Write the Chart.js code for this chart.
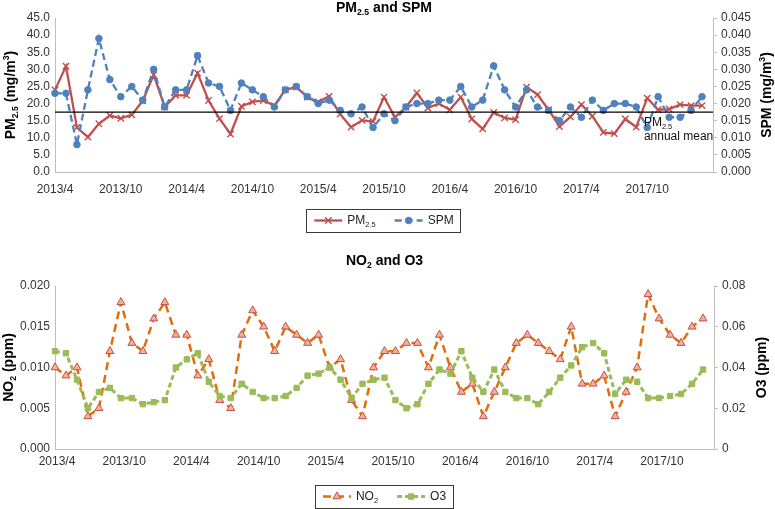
<!DOCTYPE html>
<html>
<head>
<meta charset="utf-8">
<script src="https://cdn.jsdelivr.net/npm/chart.js@4.4.1/dist/chart.umd.min.js"></script>
<style>
html,body{margin:0;padding:0;background:#fff;}
#wrap{position:relative;width:775px;height:509px;background:#fff;}
#c1{position:absolute;left:0;top:0;}
#c2{position:absolute;left:0;top:250px;}
</style>
</head>
<body>
<div id="wrap">
<canvas id="c1" width="775" height="242"></canvas>
<canvas id="c2" width="775" height="259"></canvas>
</div>
<script>
// ---------- categories ----------
const MONTHS = [
 '2013/4','2013/5','2013/6','2013/7','2013/8','2013/9','2013/10','2013/11','2013/12','2014/1','2014/2','2014/3',
 '2014/4','2014/5','2014/6','2014/7','2014/8','2014/9','2014/10','2014/11','2014/12','2015/1','2015/2','2015/3',
 '2015/4','2015/5','2015/6','2015/7','2015/8','2015/9','2015/10','2015/11','2015/12','2016/1','2016/2','2016/3',
 '2016/4','2016/5','2016/6','2016/7','2016/8','2016/9','2016/10','2016/11','2016/12','2017/1','2017/2','2017/3',
 '2017/4','2017/5','2017/6','2017/7','2017/8','2017/9','2017/10','2017/11','2017/12','2018/1','2018/2','2018/3'
];
const X_LABELS = ['2013/4','2013/10','2014/4','2014/10','2015/4','2015/10','2016/4','2016/10','2017/4','2017/10'];

// ---------- series values ----------
const PM25 = [24.0,30.9,13.0,10.2,14.1,16.5,15.7,16.7,20.8,28.4,
              19.0,22.4,22.4,28.9,20.9,15.6,11.1,19.2,20.5,20.9,
              19.4,24.0,24.8,21.9,20.5,22.1,16.9,13.1,15.1,14.8,
              21.9,16.0,19.0,23.1,18.7,20.0,18.2,21.9,15.5,12.6,
              17.4,15.8,15.3,24.8,22.6,18.2,13.3,16.1,19.7,16.3,
              11.6,11.2,15.5,13.1,21.6,18.2,18.4,19.7,19.4,19.4];
const SPM  = [0.023,0.023,0.008,0.024,0.039,0.027,0.022,0.025,0.021,0.030,
              0.019,0.024,0.024,0.034,0.026,0.025,0.018,0.026,0.024,0.022,
              0.019,0.024,0.025,0.022,0.020,0.021,0.018,0.017,0.019,0.013,
              0.017,0.015,0.019,0.020,0.020,0.021,0.021,0.025,0.019,0.021,
              0.031,0.024,0.019,0.024,0.019,0.018,0.015,0.019,0.016,0.021,
              0.018,0.020,0.020,0.019,0.013,0.022,0.016,0.016,0.018,0.022];
const PM25_ANNUAL_MEAN = 17.5;
const NO2  = [0.010,0.009,0.010,0.004,0.005,0.012,0.018,0.013,0.012,0.016,
              0.018,0.014,0.014,0.009,0.011,0.006,0.005,0.014,0.017,0.015,
              0.012,0.015,0.014,0.013,0.014,0.010,0.011,0.006,0.004,0.010,
              0.012,0.012,0.013,0.013,0.010,0.014,0.010,0.007,0.008,0.004,
              0.007,0.010,0.013,0.014,0.013,0.012,0.011,0.015,0.008,0.008,
              0.009,0.004,0.007,0.010,0.019,0.016,0.014,0.013,0.015,0.016];
const O3   = [0.048,0.047,0.034,0.020,0.028,0.030,0.025,0.025,0.022,0.023,
              0.024,0.040,0.044,0.047,0.033,0.026,0.025,0.032,0.028,0.025,
              0.025,0.026,0.030,0.036,0.037,0.040,0.034,0.025,0.032,0.034,
              0.035,0.024,0.020,0.022,0.032,0.039,0.037,0.048,0.035,0.028,
              0.039,0.028,0.025,0.025,0.022,0.028,0.035,0.041,0.050,0.052,
              0.047,0.027,0.034,0.033,0.025,0.025,0.026,0.027,0.032,0.039];

// ---------- tick values ----------
const PM_TICKS  = [0,5,10,15,20,25,30,35,40,45];
const SPM_TICKS = [0,0.005,0.010,0.015,0.020,0.025,0.030,0.035,0.040,0.045];
const NO2_TICKS = [0,0.005,0.010,0.015,0.020];
const O3_TICKS  = [0,0.02,0.04,0.06,0.08];

// ---------- style ----------
const FONT = '"Liberation Sans", Arial, sans-serif';
const AXIS_GRAY = '#bfbfbf';
const TICK_COLOR = '#333333';

const pts = arr => arr.map((v, i) => ({x: i, y: v}));

function richParts(ctx, segs, size, bold) {
  return segs.map(s => {
    const mode = s[1] || 0;
    const fs = mode ? size * 0.62 : size;
    const font = (bold ? 'bold ' : '') + fs + 'px ' + FONT;
    ctx.font = font;
    return {t: s[0], font, w: ctx.measureText(s[0]).width,
            dy: mode === 1 ? size * 0.33 : (mode === 2 ? -size * 0.33 : 0)};
  });
}
function drawRich(ctx, segs, x, y, size, bold, align, color) {
  ctx.save();
  ctx.fillStyle = color; ctx.textBaseline = 'middle'; ctx.textAlign = 'left';
  const parts = richParts(ctx, segs, size, bold);
  const total = parts.reduce((a, p) => a + p.w, 0);
  let cx = align === 'center' ? x - total / 2 : x;
  parts.forEach(p => { ctx.font = p.font; ctx.fillText(p.t, cx, y + p.dy); cx += p.w; });
  ctx.restore();
  return total;
}
function drawRichRot(ctx, segs, x, y, size, bold, color) {
  ctx.save(); ctx.translate(x, y); ctx.rotate(-Math.PI / 2);
  drawRich(ctx, segs, 0, 0, size, bold, 'center', color);
  ctx.restore();
}
function drawMarker(ctx, ds, x, y) {
  const r = ds.pointRadius, st = ds.pointStyle;
  ctx.save();
  ctx.setLineDash([]);
  ctx.lineWidth = ds.pointBorderWidth || 1;
  ctx.fillStyle = ds.pointBackgroundColor || ds.borderColor;
  ctx.strokeStyle = ds.pointBorderColor || ds.borderColor;
  ctx.beginPath();
  if (st === 'circle') { ctx.arc(x, y, r, 0, Math.PI * 2); ctx.fill(); ctx.stroke(); }
  else if (st === 'rect') { const s = r * Math.SQRT1_2; ctx.rect(x - s, y - s, 2 * s, 2 * s); ctx.fill(); ctx.stroke(); }
  else if (st === 'triangle') {
    for (let k = 0; k < 3; k++) {
      const a = k * 2 * Math.PI / 3;
      const px = x + Math.sin(a) * r, py = y - Math.cos(a) * r;
      k ? ctx.lineTo(px, py) : ctx.moveTo(px, py);
    }
    ctx.closePath(); ctx.fill(); ctx.stroke();
  } else if (st === 'crossRot') {
    const s = r * Math.SQRT1_2;
    ctx.moveTo(x - s, y - s); ctx.lineTo(x + s, y + s);
    ctx.moveTo(x - s, y + s); ctx.lineTo(x + s, y - s); ctx.stroke();
  }
  ctx.restore();
}
function drawLegend(chart, cy) {
  const ctx = chart.ctx, a = chart.chartArea;
  const items = chart.data.datasets.filter(d => d.legendSegs);
  const ICON = 28, GAP_T = 5, GAP_I = 19, FS = 12;
  const widths = items.map(d => richParts(ctx, d.legendSegs, FS, false).reduce((s, p) => s + p.w, 0));
  const total = widths.reduce((s, w) => s + ICON + GAP_T + w, 0) + GAP_I * (items.length - 1);
  let x = (a.left + a.right) / 2 - total / 2;
  ctx.save();
  ctx.strokeStyle = '#3a3a3a'; ctx.lineWidth = 1;
  ctx.strokeRect(Math.round(x - 8) + 0.5, Math.round(cy - 11.5) + 0.5, Math.round(total + 15), 23);
  ctx.restore();
  items.forEach((d, i) => {
    ctx.save();
    ctx.strokeStyle = d.borderColor; ctx.lineWidth = d.borderWidth;
    ctx.setLineDash(d.borderDash || []);
    ctx.beginPath(); ctx.moveTo(x, cy); ctx.lineTo(x + ICON, cy); ctx.stroke();
    ctx.restore();
    drawMarker(ctx, d, x + ICON / 2, cy);
    drawRich(ctx, d.legendSegs, x + ICON + GAP_T, cy, FS, false, 'left', '#222');
    x += ICON + GAP_T + widths[i] + GAP_I;
  });
}

const decorPlugin = {
  id: 'decor',
  afterDraw(chart, args, o) {
    const ctx = chart.ctx, a = chart.chartArea;
    const midX = (a.left + a.right) / 2, midY = (a.top + a.bottom) / 2;
    drawRich(ctx, o.title, midX, o.titleY, 14, true, 'center', '#000');
    drawRichRot(ctx, o.leftTitle, o.leftTitleX, midY, 14, true, '#000');
    drawRichRot(ctx, o.rightTitle, o.rightTitleX, midY, 14, true, '#000');
    if (o.annotation) {
      const an = o.annotation;
      const px = chart.scales.x.getPixelForValue(an.xValue);
      const py = chart.scales.y.getPixelForValue(an.value);
      an.lines.forEach((segs, k) => drawRich(ctx, segs, px, py + an.dy[k], 12, false, 'left', '#111'));
    }
    drawLegend(chart, o.legendY);
  }
};

function xAxis(height, padding, labelPos) {
  return {
    type: 'linear', min: 0, max: MONTHS.length,
    afterBuildTicks: s => { s.ticks = X_LABELS.map(l => ({value: labelPos(MONTHS.indexOf(l))})); },
    afterFit: s => { s.height = height; },
    grid: {display: false, drawTicks: false},
    border: {display: true, color: AXIS_GRAY, width: 1},
    ticks: {padding, color: TICK_COLOR, font: {family: FONT, size: 12}, maxRotation: 0, autoSkip: false,
            callback: (v, i) => X_LABELS[i]}
  };
}
function yAxis(pos, ticksArr, min, max, fmt, width, tickMarks) {
  return {
    type: 'linear', position: pos, min, max,
    afterBuildTicks: s => { s.ticks = ticksArr.map(v => ({value: v})); },
    afterFit: s => { s.width = width; },
    grid: tickMarks ? {display: true, drawOnChartArea: false, drawTicks: true, tickLength: 4, color: AXIS_GRAY}
                    : {display: false, drawTicks: false},
    border: {display: true, color: AXIS_GRAY, width: 1},
    ticks: {padding: tickMarks ? 4 : 5, color: TICK_COLOR, font: {family: FONT, size: 12}, autoSkip: false,
            callback: fmt}
  };
}

Chart.defaults.font.family = FONT;

new Chart(document.getElementById('c1'), {
  type: 'line',
  data: {
    datasets: [
      {label: 'PM2.5', legendSegs: [['PM'], ['2.5', 1]], data: pts(PM25), yAxisID: 'y', order: 3,
       borderColor: '#C0504D', borderWidth: 2.3, tension: 0, clip: false,
       pointStyle: 'crossRot', pointRadius: 4.5, pointBorderColor: '#C0504D', pointBorderWidth: 1.4,
       pointBackgroundColor: '#C0504D'},
      {label: 'SPM', legendSegs: [['SPM']], data: pts(SPM), yAxisID: 'y1', order: 2,
       borderColor: '#4F81BD', borderWidth: 2.3, borderDash: [7, 4], tension: 0, clip: false,
       pointStyle: 'circle', pointRadius: 3.3, pointBackgroundColor: '#4F81BD', pointBorderColor: '#4F81BD',
       pointBorderWidth: 1},
      {label: 'PM2.5 annual mean', data: [{x: 0, y: PM25_ANNUAL_MEAN}, {x: MONTHS.length, y: PM25_ANNUAL_MEAN}],
       yAxisID: 'y', order: 1, borderColor: '#000', borderWidth: 1.3, pointRadius: 0, clip: false}
    ]
  },
  options: {
    responsive: false, animation: false, devicePixelRatio: 1,
    layout: {padding: {top: 18, bottom: 33, left: 0, right: 0}},
    plugins: {
      legend: {display: false}, tooltip: {enabled: false},
      decor: {
        title: [['PM'], ['2.5', 1], [' and SPM']], titleY: 8,
        leftTitle: [['PM'], ['2.5', 1], [' (mg/m'], ['3', 2], [')']], leftTitleX: 11,
        rightTitle: [['SPM (mg/m'], ['3', 2], [')']], rightTitleX: 767,
        annotation: {value: PM25_ANNUAL_MEAN, xValue: 53.7, dy: [11, 25],
                     lines: [[['PM'], ['2.5', 1]], [['annual mean']]]},
        legendY: 220.5
      }
    },
    scales: {
      x: xAxis(37, 10, i => i),
      y: yAxis('left', PM_TICKS, 0, 45, v => v.toFixed(1), 55, false),
      y1: yAxis('right', SPM_TICKS, 0, 0.045, v => v.toFixed(3), 62, true)
    }
  },
  plugins: [decorPlugin]
});

new Chart(document.getElementById('c2'), {
  type: 'line',
  data: {
    datasets: [
      {label: 'NO2', legendSegs: [['NO'], ['2', 1]], data: pts(NO2), yAxisID: 'y', order: 2,
       borderColor: '#E46C0A', borderWidth: 2.5, borderDash: [8, 5], tension: 0, clip: false,
       pointStyle: 'triangle', pointRadius: 4.6, pointBackgroundColor: '#F5B095', pointBorderColor: '#C0504D',
       pointBorderWidth: 1},
      {label: 'O3', legendSegs: [['O3']], data: pts(O3), yAxisID: 'y1', order: 1,
       borderColor: '#9BBB59', borderWidth: 3, borderDash: [5, 3], tension: 0, clip: false,
       pointStyle: 'rect', pointRadius: 3.8, pointBackgroundColor: '#9BBB59', pointBorderColor: '#9BBB59',
       pointBorderWidth: 1}
    ]
  },
  options: {
    responsive: false, animation: false, devicePixelRatio: 1,
    layout: {padding: {top: 36, bottom: 24, left: 0, right: 0}},
    plugins: {
      legend: {display: false}, tooltip: {enabled: false},
      decor: {
        title: [['NO'], ['2', 1], [' and O3']], titleY: 11,
        leftTitle: [['NO'], ['2', 1], [' (ppm)']], leftTitleX: 9,
        rightTitle: [['O3 (ppm)']], rightTitleX: 762,
        legendY: 246.5
      }
    },
    scales: {
      x: xAxis(36, 5, i => i * 1.02 + 0.18),
      y: yAxis('left', NO2_TICKS, 0, 0.02, v => v.toFixed(3), 55, false),
      y1: yAxis('right', O3_TICKS, 0, 0.08, v => (v === 0 ? '0' : v.toFixed(2)), 61, true)
    }
  },
  plugins: [decorPlugin]
});
</script>
</body>
</html>
